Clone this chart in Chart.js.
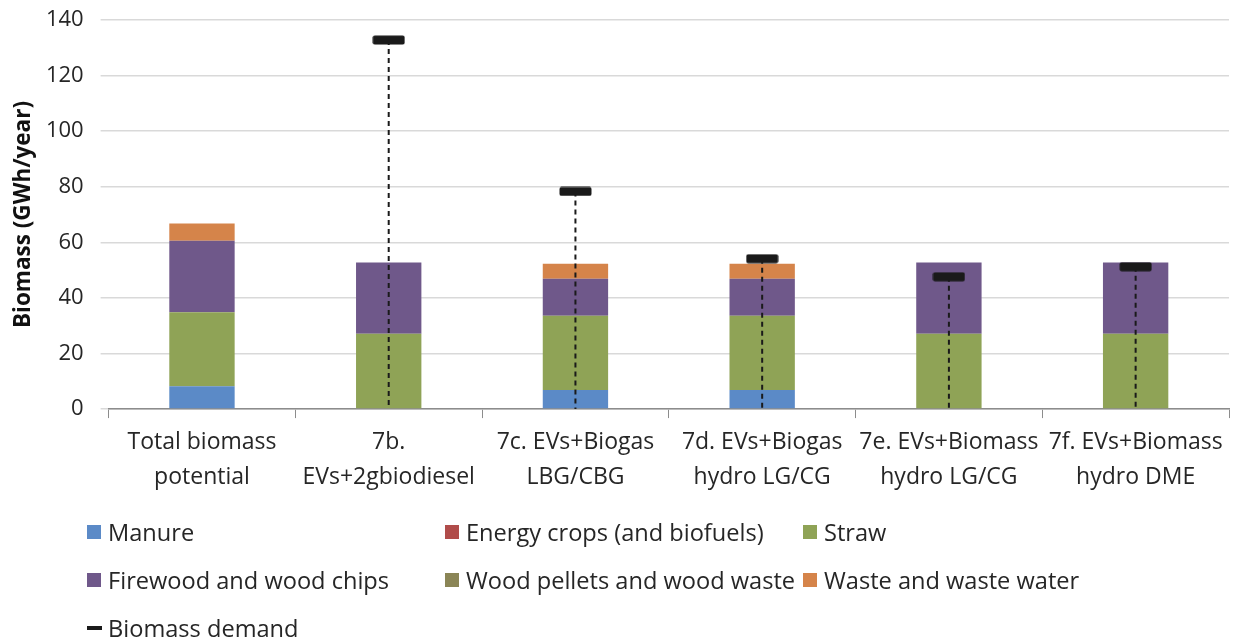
<!DOCTYPE html>
<html>
<head>
<meta charset="utf-8">
<script src="https://cdn.jsdelivr.net/npm/chart.js@4"></script>
<style>
    body { margin: 0; background: #fff; width: 1233px; height: 641px; overflow: hidden; position: relative; }
    #wrap { position: absolute; left: 0; top: 0; width: 1233px; height: 502px; }
    #legend { position: absolute; left: 0; top: 0; width: 1233px; height: 641px;
              font-family: "Open Sans", sans-serif; font-size: 23.6px; color: #262626; }
    .item { position: absolute; display: flex; align-items: center; white-space: nowrap; height: 32px; }
    .box { width: 14px; height: 14px; margin-right: 7px; }
    .dash { width: 15px; height: 4px; background: #1a1a1a; margin-right: 6px; }
</style>
</head>
<body>
<div id="wrap"><canvas id="chart" width="1233" height="502"></canvas></div>
<div id="legend"></div>
<script>
// categories and series (GWh/year)
const categories = [
    ['Total biomass', 'potential'],
    ['7b.', 'EVs+2gbiodiesel'],
    ['7c. EVs+Biogas', 'LBG/CBG'],
    ['7d. EVs+Biogas', 'hydro LG/CG'],
    ['7e. EVs+Biomass', 'hydro LG/CG'],
    ['7f. EVs+Biomass', 'hydro DME']
];
const manure = [8.2, 0, 6.9, 6.9, 0, 0];
const energyCrops = [0, 0, 0, 0, 0, 0];
const straw = [26.6, 27.1, 26.7, 26.7, 27.1, 27.1];
const firewood = [25.8, 25.6, 13.3, 13.3, 25.6, 25.6];
const woodPellets = [0, 0, 0, 0, 0, 0];
const waste = [6.2, 0, 5.4, 5.4, 0, 0];
const demand = [null, 132.8, 78.3, 54.1, 47.6, 51.2];
const yTicks = [0, 20, 40, 60, 80, 100, 120, 140];

const series = [
    { label: 'Manure', data: manure, color: '#5b8ac7' },
    { label: 'Energy crops (and biofuels)', data: energyCrops, color: '#b04c4a' },
    { label: 'Straw', data: straw, color: '#8fa356' },
    { label: 'Firewood and wood chips', data: firewood, color: '#6f588a' },
    { label: 'Wood pellets and wood waste', data: woodPellets, color: '#8a8556' },
    { label: 'Waste and waste water', data: waste, color: '#d5844a' }
];

// demand marker: small rounded black bar
const marker = document.createElement('canvas');
marker.width = 33;
marker.height = 10;
const mctx = marker.getContext('2d');
mctx.fillStyle = '#1a1a1a';
mctx.beginPath();
mctx.roundRect(0.5, 0.5, 32, 9, 2);
mctx.fill();

// dashed drop line from each demand marker down to zero
const dropLines = {
    id: 'dropLines',
    beforeDatasetDraw(chart, args) {
        if (chart.data.datasets[args.index].label !== 'Biomass demand') return;
        const y = chart.scales.y;
        const ctx = chart.ctx;
        ctx.save();
        ctx.strokeStyle = '#1a1a1a';
        ctx.lineWidth = 2;
        ctx.setLineDash([5, 4]);
        args.meta.data.forEach((pt, i) => {
            if (demand[i] == null) return;
            ctx.beginPath();
            ctx.moveTo(pt.x, pt.y);
            ctx.lineTo(pt.x, y.getPixelForValue(0));
            ctx.stroke();
        });
        ctx.restore();
    }
};

const datasets = series.map(s => ({
    type: 'bar',
    label: s.label,
    data: s.data,
    backgroundColor: s.color,
    borderWidth: 0,
    barPercentage: 0.35,
    categoryPercentage: 1,
    stack: 'bio'
}));
datasets.push({
    type: 'line',
    label: 'Biomass demand',
    data: demand,
    showLine: false,
    pointStyle: marker,
    pointRadius: 1,
    pointBorderWidth: 0,
    stack: 'demand',
    order: -1,
    clip: false
});

new Chart(document.getElementById('chart'), {
    type: 'bar',
    data: { labels: categories, datasets: datasets },
    options: {
        responsive: false,
        animation: false,
        layout: { padding: { top: 7, right: 3, left: 11, bottom: 0 } },
        plugins: { legend: { display: false }, tooltip: { enabled: false } },
        scales: {
            x: {
                stacked: true,
                afterFit: s => { s.paddingLeft = 0; s.paddingRight = 0; },
                grid: { offset: true, drawOnChartArea: false, drawTicks: true, tickLength: 9, color: '#8c8c8c' },
                border: { color: '#8c8c8c', width: 1.5 },
                ticks: { color: '#262626', font: { family: 'Open Sans', size: 23, lineHeight: 1.52 }, padding: 7, maxRotation: 0, autoSkip: false }
            },
            y: {
                stacked: true,
                min: 0,
                max: 140,
                afterBuildTicks: axis => { axis.ticks = yTicks.map(v => ({ value: v })); },
                afterFit: s => { s.paddingTop = 20; s.width -= 16; },
                grid: { color: '#d9d9d9', lineWidth: 1.5, tickLength: 8 },
                border: { display: false },
                ticks: { color: '#262626', font: { family: 'Open Sans', size: 22 }, padding: 17 },
                title: { display: true, text: 'Biomass (GWh/year)', color: '#111',
                         font: { family: 'Open Sans', size: 22.5, weight: 'bold', lineHeight: 1.15 }, padding: { top: 0, bottom: 8 } }
            }
        }
    },
    plugins: [dropLines]
});

// legend in three columns like the original
const legend = document.getElementById('legend');
const colX = [87, 445, 803];
const rowY = [516, 564, 612];
series.forEach((s, i) => {
    const el = document.createElement('div');
    el.className = 'item';
    el.style.left = colX[i % 3] + 'px';
    el.style.top = rowY[Math.floor(i / 3)] + 'px';
    el.innerHTML = '<span class="box" style="background:' + s.color + '"></span>' + s.label;
    legend.appendChild(el);
});
const d = document.createElement('div');
d.className = 'item';
d.style.left = colX[0] + 'px';
d.style.top = rowY[2] + 'px';
d.innerHTML = '<span class="dash"></span>Biomass demand';
legend.appendChild(d);
</script>
</body>
</html>
